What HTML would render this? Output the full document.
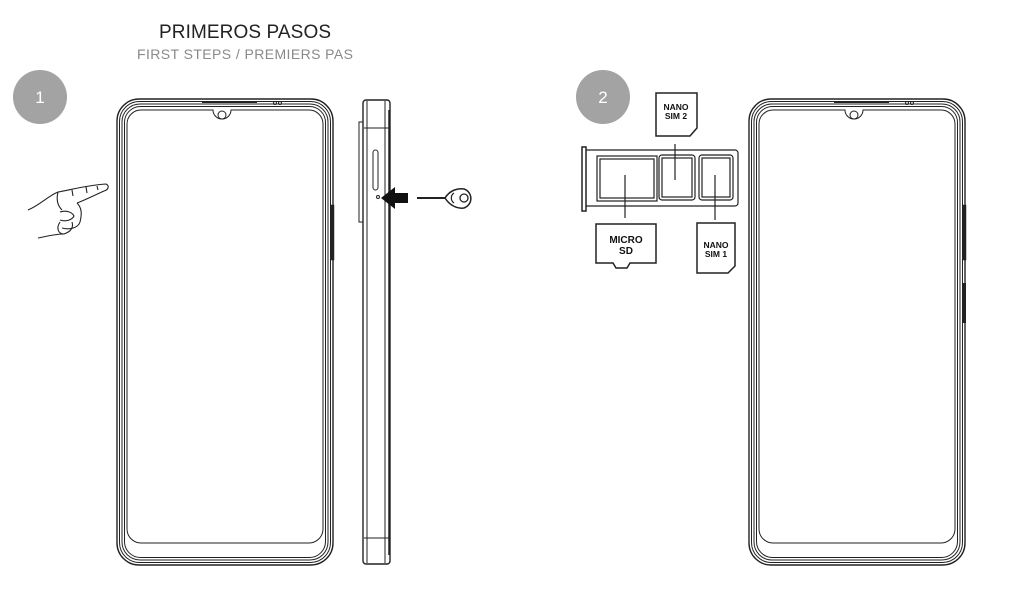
<!DOCTYPE html>
<html><head><meta charset="utf-8"><style>
html,body{margin:0;padding:0;background:#fff;width:1035px;height:602px;overflow:hidden}
svg{display:block}
</style></head><body>
<svg width="1035" height="602" viewBox="0 0 1035 602" xmlns="http://www.w3.org/2000/svg" font-family="Liberation Sans, sans-serif">
<text x="245" y="38" font-size="19" text-anchor="middle" fill="#222" textLength="172">PRIMEROS PASOS</text>
<text x="245" y="59" font-size="14" text-anchor="middle" fill="#8a8a8a" textLength="216">FIRST STEPS / PREMIERS PAS</text>
<circle cx="40" cy="97" r="27" fill="#a3a3a3"/>
<text x="40" y="103" font-size="17" text-anchor="middle" fill="#fff">1</text>
<circle cx="603" cy="97" r="27" fill="#a3a3a3"/>
<text x="603" y="103" font-size="17" text-anchor="middle" fill="#fff">2</text>

<defs>
<g id="phone" fill="none" stroke="#222">
<rect x="0" y="0" width="216" height="466" rx="22" stroke-width="1.4"/>
<rect x="2.5" y="2.5" width="211" height="461" rx="20" stroke-width="1"/>
<rect x="5" y="5" width="206" height="456" rx="18" stroke-width="1"/>
<rect x="7.5" y="7.5" width="201" height="451" rx="16" stroke-width="1"/>
<path d="M24 11 H96 A9 9 0 0 0 114 11 H192 A14 14 0 0 1 206 25 V430 A14 14 0 0 1 192 444 H24 A14 14 0 0 1 10 430 V25 A14 14 0 0 1 24 11 Z" stroke-width="1"/>
<circle cx="105" cy="16" r="4" stroke-width="1"/>
<line x1="85" y1="3" x2="140" y2="3" stroke-width="2"/>
<circle cx="158" cy="4" r="1.5" stroke-width="1"/><circle cx="163" cy="4" r="1.5" stroke-width="1"/>
<rect x="214" y="106" width="3" height="55" fill="#222" stroke-width="0.5"/>
</g>
</defs>
<use href="#phone" x="117" y="99"/>
<use href="#phone" x="749" y="99"/>
<rect x="963" y="283" width="3" height="40" fill="#222" stroke="none"/>

<g fill="none" stroke="#222">
<rect x="363" y="100" width="27" height="464" rx="3" stroke-width="1.4"/>
<line x1="367" y1="101" x2="367" y2="563" stroke-width="1"/>
<line x1="385" y1="101" x2="385" y2="563" stroke-width="1"/>
<line x1="364" y1="128" x2="389" y2="128" stroke-width="1"/>
<line x1="364" y1="538" x2="389" y2="538" stroke-width="1"/>
<rect x="359" y="122" width="4" height="100" stroke-width="1"/>
<rect x="373" y="150" width="5" height="40" rx="2.5" stroke-width="1"/>
<circle cx="378" cy="197" r="1.5" stroke-width="1"/>
<line x1="389" y1="110" x2="389" y2="555" stroke-width="1.5"/>
</g>
<path d="M381 198 L395 187 V193 H408 V203 H395 V209 Z" fill="#111"/>
<line x1="417" y1="198" x2="445" y2="198" stroke="#222" stroke-width="2"/>
<path d="M445 198 C450 190 458 188 464 189 A10 10 0 0 1 464 208 C458 209 450 206 445 198 Z" fill="none" stroke="#222" stroke-width="1.5"/>
<circle cx="464" cy="198" r="4" fill="none" stroke="#222" stroke-width="1.3"/>
<path d="M454 193 A6 6 0 0 0 454 203" fill="none" stroke="#222" stroke-width="1.2"/>

<g fill="none" stroke="#222" stroke-width="1.1">
<path d="M28 210 C40 205 48 196 58 192 C70 190 88 185 106 184 C110 186 108 190 104 191 C95 195 85 200 77 203"/>
<path d="M77 203 C82 208 82 214 80 222 C78 228 70 230 62 228"/>
<path d="M60 212 C66 210 72 212 74 216 C72 220 66 222 60 220"/>
<path d="M60 222 C56 228 58 234 64 234 C70 232 74 228 72 222"/>
<path d="M38 238 C48 236 56 234 64 234"/>
<path d="M58 192 C56 200 58 206 62 210"/>
<line x1="72" y1="190" x2="73" y2="196"/><line x1="86" y1="187" x2="87" y2="193"/><line x1="97" y1="186" x2="98" y2="190"/>
</g>

<g fill="none" stroke="#222" stroke-width="1.2">
<rect x="582" y="147" width="4" height="64" stroke-width="1.5"/>
<path d="M586 150 H735 A3 3 0 0 1 738 153 V203 A3 3 0 0 1 735 206 H586"/>
<rect x="597" y="156" width="60" height="45"/>
<rect x="600" y="159" width="54" height="39"/>
<rect x="659" y="155" width="36" height="45" rx="3"/>
<rect x="662" y="158" width="30" height="39"/>
<rect x="699" y="155" width="34" height="45" rx="3"/>
<rect x="702" y="158" width="28" height="39"/>
<path d="M656 93 H697 V128 L690 136 H656 Z" stroke-width="1.5"/>
<line x1="675" y1="144" x2="675" y2="180"/>
<line x1="625" y1="175" x2="625" y2="218"/>
<line x1="715" y1="175" x2="715" y2="220"/>
<path d="M596 224 H656 V263 H630 L627 268 H616 L613 263 H596 Z" stroke-width="1.5"/>
<path d="M697 223 H735 V266 L728 273 H697 Z" stroke-width="1.5"/>
</g>
<g font-size="8.5" text-anchor="middle" fill="#111" font-weight="bold" font-family="Liberation Sans Narrow, Liberation Sans, sans-serif">
<text x="676" y="110">NANO</text><text x="676" y="119">SIM 2</text>
<text x="626" y="243" font-size="10">MICRO</text><text x="626" y="254" font-size="10">SD</text>
<text x="716" y="248">NANO</text><text x="716" y="257">SIM 1</text>
</g>
</svg>
</body></html>
